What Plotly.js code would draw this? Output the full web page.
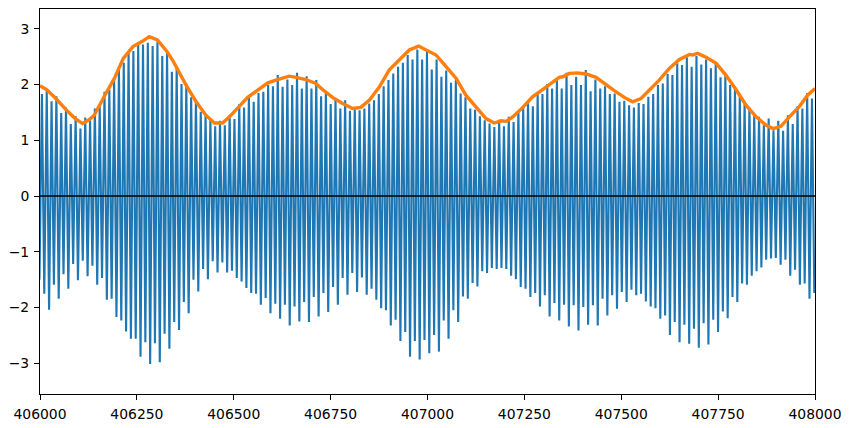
<!DOCTYPE html>
<html>
<head>
<meta charset="utf-8">
<script src="https://cdn.plot.ly/plotly-3.0.1.min.js"></script>
<style>
  html, body { margin: 0; padding: 0; background: #fff; }
  #chart { width: 851px; height: 428px; }
</style>
</head>
<body>
<div id="chart"></div>
<script>
// Tidal signal: successive high-water peaks and low-water troughs
const firstPeakTime = 406005;
const firstTroughTime = 405998.6;
const tidePeriod = 12.42;

const peaks = [
  1.83, 1.89, 1.70, 1.79, 1.49, 1.59, 1.29, 1.43, 1.21, 1.41, 1.36, 1.57, 1.61, 1.87, 1.91, 2.09, 2.29, 2.39, 2.56, 2.60, 2.71, 2.72, 2.75, 2.69, 2.77, 2.51, 2.60,
  2.23, 2.32, 2.01, 2.02, 1.77, 1.73, 1.51, 1.45, 1.37, 1.25, 1.35, 1.27, 1.46, 1.38, 1.65, 1.59, 1.79, 1.69, 1.85, 1.87, 1.99, 1.97, 2.17, 1.96, 2.09, 1.99, 2.21,
  1.93, 2.15, 1.93, 2.08, 1.79, 1.89, 1.65, 1.73, 1.57, 1.72, 1.53, 1.57, 1.54, 1.57, 1.66, 1.72, 1.83, 1.97, 2.08, 2.20, 2.32, 2.39, 2.53, 2.45, 2.63, 2.45, 2.59,
  2.27, 2.45, 2.14, 2.25, 2.03, 2.08, 1.84, 1.77, 1.57, 1.55, 1.43, 1.36, 1.30, 1.24, 1.37, 1.25, 1.42, 1.33, 1.51, 1.59, 1.72, 1.61, 1.84, 1.83, 2.01, 1.93, 2.08,
  1.93, 2.21, 1.99, 2.14, 1.99, 2.26, 1.88, 2.09, 1.93, 1.97, 1.83, 1.84, 1.69, 1.71, 1.63, 1.59, 1.67, 1.65, 1.78, 1.83, 1.99, 2.02, 2.19, 2.17, 2.38, 2.35, 2.49,
  2.32, 2.51, 2.36, 2.45, 2.29, 2.39, 2.13, 2.17, 1.99, 1.93, 1.81, 1.69, 1.59, 1.45, 1.42, 1.27, 1.39, 1.18, 1.35, 1.17, 1.45, 1.29, 1.61, 1.57, 1.85, 1.75
];

const troughs = [
  -1.50,
  -1.75, -2.04, -1.59, -1.84, -1.40, -1.66, -1.22, -1.51, -1.16, -1.44, -1.25, -1.59, -1.47, -1.86, -1.84, -2.17, -2.23, -2.43, -2.56, -2.56, -2.88, -2.62, -3.01, -2.64, -2.98, -2.47, -2.74,
  -2.26, -2.40, -1.90, -2.10, -1.50, -1.71, -1.31, -1.49, -1.17, -1.37, -1.19, -1.37, -1.34, -1.47, -1.53, -1.65, -1.74, -1.75, -1.95, -1.83, -2.10, -1.93, -2.20, -1.95, -2.32, -1.98, -2.25,
  -1.90, -2.26, -1.81, -2.16, -1.74, -2.08, -1.63, -1.95, -1.47, -1.77, -1.38, -1.72, -1.46, -1.77, -1.66, -1.86, -2.01, -2.05, -2.32, -2.22, -2.60, -2.44, -2.88, -2.60, -2.93, -2.58, -2.82,
  -2.49, -2.79, -2.23, -2.56, -2.05, -2.26, -1.80, -1.84, -1.56, -1.62, -1.35, -1.38, -1.29, -1.31, -1.29, -1.31, -1.43, -1.49, -1.63, -1.66, -1.81, -1.74, -1.98, -1.78, -2.16, -1.92, -2.23,
  -1.95, -2.34, -1.96, -2.41, -1.99, -2.31, -1.96, -2.32, -1.84, -2.14, -1.78, -2.02, -1.72, -1.90, -1.68, -1.78, -1.75, -1.89, -1.98, -2.01, -2.20, -2.14, -2.49, -2.26, -2.62, -2.31, -2.65,
  -2.38, -2.72, -2.28, -2.66, -2.22, -2.44, -2.07, -2.19, -1.81, -1.90, -1.57, -1.59, -1.43, -1.35, -1.28, -1.14, -1.12, -1.11, -1.23, -1.14, -1.43, -1.32, -1.59, -1.57, -1.84, -1.74
];

// Upper envelope (orange)
const envelopeTime = [
  406000, 406017, 406041, 406067, 406091, 406110, 406127, 406140, 406166, 406192,
  406215, 406240, 406265, 406282, 406303, 406328, 406342, 406360, 406377, 406403,
  406428, 406450, 406471, 406489, 406510, 406536, 406562, 406588, 406613, 406643,
  406661, 406686, 406712, 406729, 406755, 406781, 406807, 406828, 406850, 406876,
  406901, 406927, 406953, 406977, 407000, 407022, 407048, 407074, 407099, 407125,
  407151, 407172, 407190, 407203, 407220, 407246, 407271, 407297, 407319, 407340,
  407349, 407366, 407387, 407409, 407435, 407456, 407482, 407508, 407529, 407551,
  407572, 407598, 407624, 407650, 407676, 407684, 407697, 407719, 407745, 407770,
  407796, 407822, 407848, 407874, 407892, 407912, 407934, 407960, 407981, 408000
];
const envelopeValue = [
  1.98, 1.91, 1.75, 1.55, 1.39, 1.30, 1.37, 1.45, 1.79, 2.11,
  2.47, 2.68, 2.78, 2.86, 2.80, 2.59, 2.44, 2.20, 1.99, 1.69,
  1.45, 1.31, 1.31, 1.42, 1.57, 1.77, 1.90, 2.03, 2.09, 2.15,
  2.13, 2.09, 2.02, 1.91, 1.77, 1.66, 1.57, 1.59, 1.72, 1.96,
  2.26, 2.45, 2.62, 2.69, 2.60, 2.53, 2.32, 2.11, 1.81, 1.59,
  1.39, 1.31, 1.35, 1.34, 1.42, 1.59, 1.78, 1.91, 2.03, 2.13,
  2.14, 2.20, 2.21, 2.19, 2.13, 2.02, 1.89, 1.77, 1.69, 1.75,
  1.89, 2.08, 2.29, 2.45, 2.54, 2.53, 2.56, 2.49, 2.38, 2.17,
  1.91, 1.63, 1.42, 1.27, 1.21, 1.25, 1.42, 1.61, 1.81, 1.93
];

const zeroLineX = [406000, 408000];
const zeroLineY = [0, 0];

const xTickVals = [406000, 406250, 406500, 406750, 407000, 407250, 407500, 407750, 408000];
const xTickText = ['406000', '406250', '406500', '406750', '407000', '407250', '407500', '407750', '408000'];
const yTickVals = [-3, -2, -1, 0, 1, 2, 3];
const yTickText = ['\u22123', '\u22122', '\u22121', '0', '1', '2', '3'];

// Interleave troughs and peaks along the sampling grid
const sigX = [], sigY = [];
for (let i = 0; i < troughs.length; i++) {
  sigX.push(firstTroughTime + i * tidePeriod);
  sigY.push(troughs[i]);
  if (i < peaks.length) {
    sigX.push(firstPeakTime + i * tidePeriod);
    sigY.push(peaks[i]);
  }
}

const traces = [
  { x: sigX, y: sigY, type: 'scatter', mode: 'lines',
    line: { color: '#1f77b4', width: 2.1 }, hoverinfo: 'skip' },
  { x: envelopeTime, y: envelopeValue, type: 'scatter', mode: 'lines',
    line: { color: '#ff7f0e', width: 3.4 }, hoverinfo: 'skip' },
  { x: zeroLineX, y: zeroLineY, type: 'scatter', mode: 'lines',
    line: { color: '#000000', width: 1.5 }, hoverinfo: 'skip' }
];

const axisCommon = {
  showgrid: false, zeroline: false,
  showline: true, mirror: true, linecolor: '#000', linewidth: 1,
  ticks: 'outside', ticklen: 5, tickwidth: 1, tickcolor: '#000',
  tickfont: { family: 'DejaVu Sans', size: 13.9, color: '#000' },
  tickmode: 'array', ticklabelstandoff: 2
};

const layout = {
  width: 851, height: 428,
  margin: { l: 40, r: 36, t: 9, b: 34, pad: 0 },
  paper_bgcolor: '#fff', plot_bgcolor: '#fff',
  showlegend: false,
  xaxis: Object.assign({}, axisCommon, {
    range: [406000, 408000], tickvals: xTickVals, ticktext: xTickText
  }),
  yaxis: Object.assign({}, axisCommon, {
    range: [-3.55, 3.355], tickvals: yTickVals, ticktext: yTickText
  })
};

Plotly.newPlot('chart', traces, layout, { staticPlot: true, displayModeBar: false });
</script>
</body>
</html>
